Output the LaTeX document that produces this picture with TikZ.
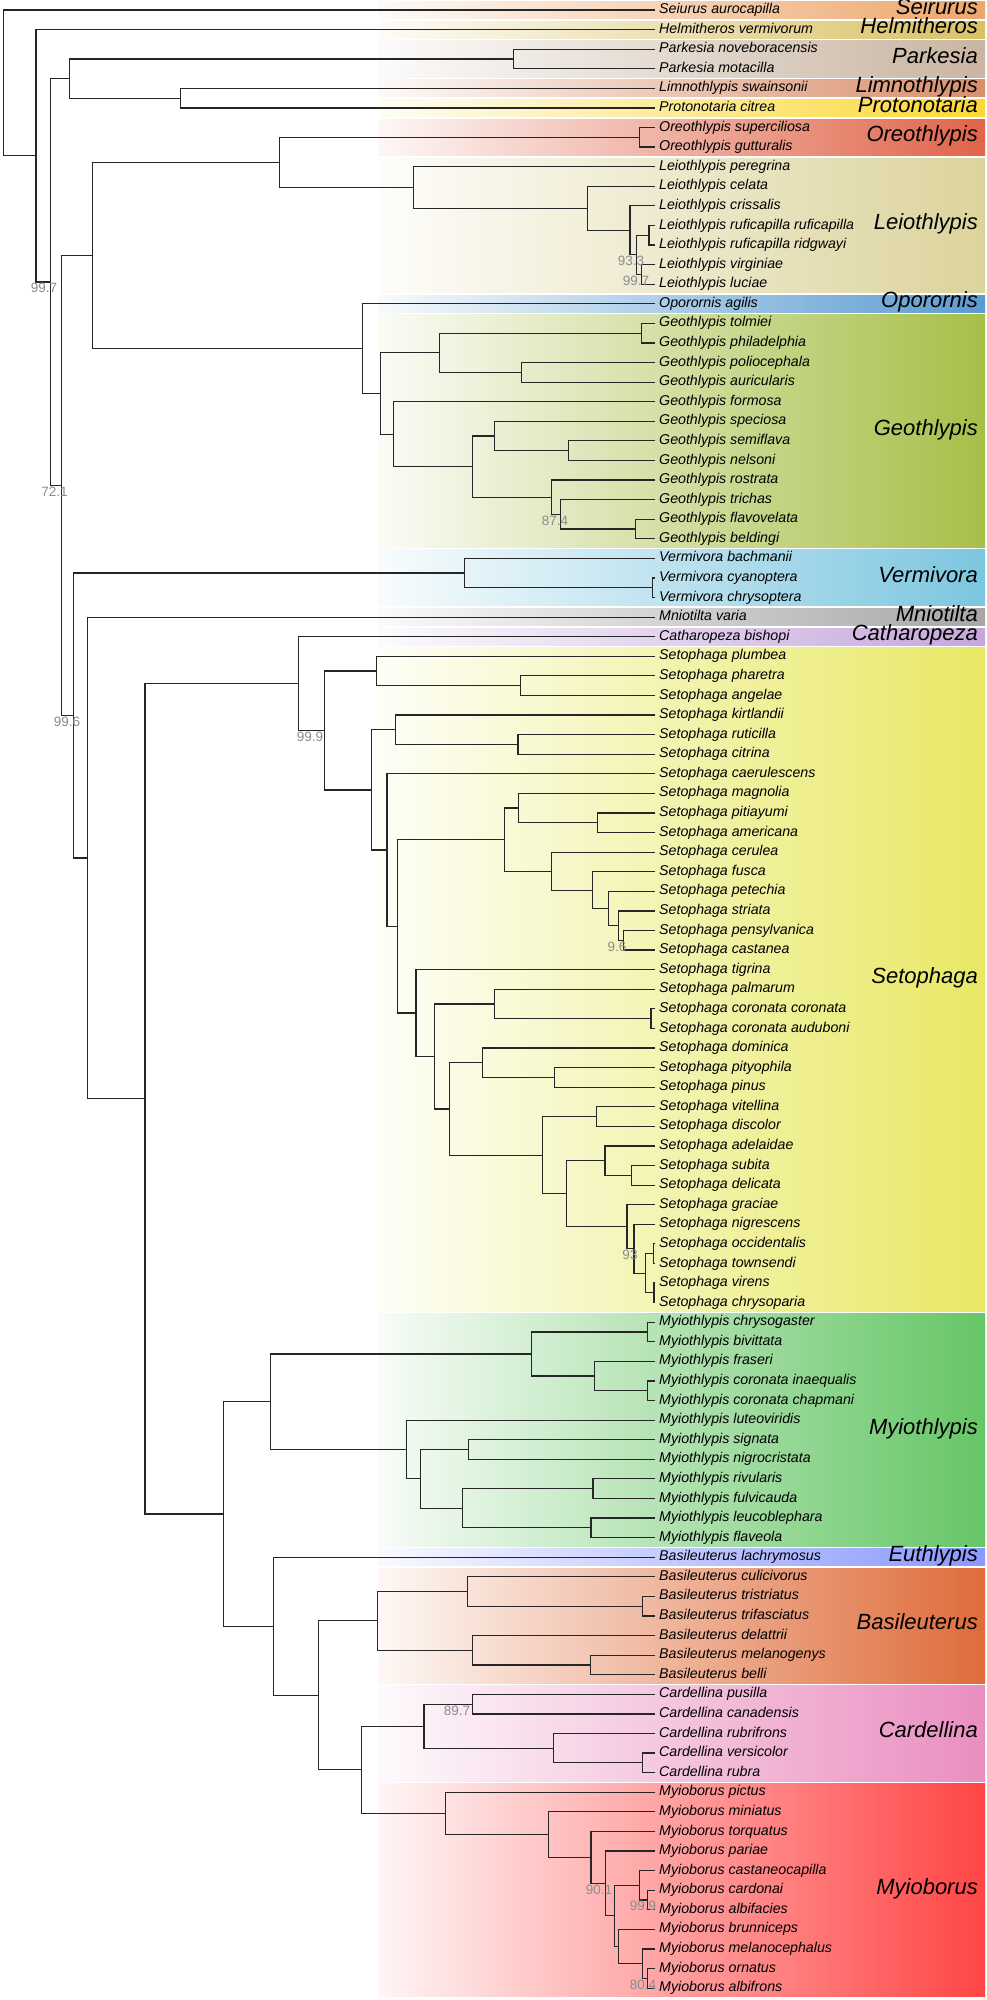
\documentclass[tikz,border=0pt]{standalone}
\usepackage{fontspec}
\setmainfont{Liberation Sans}
\usepackage{tikz}
\usetikzlibrary{positioning}
\definecolor{cSeiurus}{HTML}{EDA66B}
\definecolor{cHelmitheros}{HTML}{D9C165}
\definecolor{cParkesia}{HTML}{C9B5A1}
\definecolor{cLimnothlypis}{HTML}{D98F6B}
\definecolor{cProtonotaria}{HTML}{FBD836}
\definecolor{cOreothlypis}{HTML}{E06449}
\definecolor{cLeiothlypis}{HTML}{DCD39C}
\definecolor{cOporornis}{HTML}{5A9BD0}
\definecolor{cGeothlypis}{HTML}{A7BF48}
\definecolor{cVermivora}{HTML}{7CC6DF}
\definecolor{cMniotilta}{HTML}{A6A6A6}
\definecolor{cCatharopeza}{HTML}{C6A6DB}
\definecolor{cSetophaga}{HTML}{E8E864}
\definecolor{cMyiothlypis}{HTML}{66C666}
\definecolor{cEuthlypis}{HTML}{8A98FF}
\definecolor{cBasileuterus}{HTML}{DF6C3A}
\definecolor{cCardellina}{HTML}{EA8EC0}
\definecolor{cMyioborus}{HTML}{FF4545}
\tikzstyle{branch} = [line width=1.2pt, draw=black!85]
\tikzstyle{tiplab} = [inner sep=0pt, text height=0.716em, text depth=0pt, font=\itshape\fontsize{14.2}{16}\selectfont]
\tikzstyle{cladelab} = [anchor=east, inner sep=0pt, text height=0.716em, text depth=0pt, font=\itshape\fontsize{22}{26}\selectfont]
\tikzstyle{boot} = [inner sep=0pt, text height=0.716em, text depth=0pt, text=black!45, font=\fontsize{13.5}{15}\selectfont]

\begin{document}
\begin{tikzpicture}[x=1pt, y=-19.585pt, node distance=4pt]

    \fill[white] (0,0.4894) rectangle (986,102.6084);
    \useasboundingbox (0,0.4894) rectangle (986,102.6084);

    \foreach \first/\last/\col/\clade [count=\k] in {1/1/cSeiurus/Seirurus, 2/2/cHelmitheros/Helmitheros, 3/4/cParkesia/Parkesia, 5/5/cLimnothlypis/Limnothlypis, 6/6/cProtonotaria/Protonotaria, 7/8/cOreothlypis/Oreothlypis, 9/15/cLeiothlypis/Leiothlypis, 16/16/cOporornis/Oporornis, 17/28/cGeothlypis/Geothlypis, 29/31/cVermivora/Vermivora, 32/32/cMniotilta/Mniotilta, 33/33/cCatharopeza/Catharopeza, 34/67/cSetophaga/Setophaga, 68/79/cMyiothlypis/Myiothlypis, 80/80/cEuthlypis/Euthlypis, 81/86/cBasileuterus/Basileuterus, 87/91/cCardellina/Cardellina, 92/102/cMyioborus/Myioborus}{
        \shade[left color=\col!5!white, right color=\col] (378,{\first-0.43}) rectangle (985,{\last+0.43});
        \node[cladelab] (clade\k) at (978,{(\first+\last)/2+0.03}) {\clade};
    }

    \foreach \name [count=\i] in {Seiurus aurocapilla, Helmitheros vermivorum, Parkesia noveboracensis, Parkesia motacilla, Limnothlypis swainsonii, Protonotaria citrea, Oreothlypis superciliosa, Oreothlypis gutturalis, Leiothlypis peregrina, Leiothlypis celata, Leiothlypis crissalis, Leiothlypis ruficapilla ruficapilla, Leiothlypis ruficapilla ridgwayi, Leiothlypis virginiae, Leiothlypis luciae, Oporornis agilis, Geothlypis tolmiei, Geothlypis philadelphia, Geothlypis poliocephala, Geothlypis auricularis, Geothlypis formosa, Geothlypis speciosa, Geothlypis semiflava, Geothlypis nelsoni, Geothlypis rostrata, Geothlypis trichas, Geothlypis flavovelata, Geothlypis beldingi, Vermivora bachmanii, Vermivora cyanoptera, Vermivora chrysoptera, Mniotilta varia, Catharopeza bishopi, Setophaga plumbea, Setophaga pharetra, Setophaga angelae, Setophaga kirtlandii, Setophaga ruticilla, Setophaga citrina, Setophaga caerulescens, Setophaga magnolia, Setophaga pitiayumi, Setophaga americana, Setophaga cerulea, Setophaga fusca, Setophaga petechia, Setophaga striata, Setophaga pensylvanica, Setophaga castanea, Setophaga tigrina, Setophaga palmarum, Setophaga coronata coronata, Setophaga coronata auduboni, Setophaga dominica, Setophaga pityophila, Setophaga pinus, Setophaga vitellina, Setophaga discolor, Setophaga adelaidae, Setophaga subita, Setophaga delicata, Setophaga graciae, Setophaga nigrescens, Setophaga occidentalis, Setophaga townsendi, Setophaga virens, Setophaga chrysoparia, Myiothlypis chrysogaster, Myiothlypis bivittata, Myiothlypis fraseri, Myiothlypis coronata inaequalis, Myiothlypis coronata chapmani, Myiothlypis luteoviridis, Myiothlypis signata, Myiothlypis nigrocristata, Myiothlypis rivularis, Myiothlypis fulvicauda, Myiothlypis leucoblephara, Myiothlypis flaveola, Basileuterus lachrymosus, Basileuterus culicivorus, Basileuterus tristriatus, Basileuterus trifasciatus, Basileuterus delattrii, Basileuterus melanogenys, Basileuterus belli, Cardellina pusilla, Cardellina canadensis, Cardellina rubrifrons, Cardellina versicolor, Cardellina rubra, Myioborus pictus, Myioborus miniatus, Myioborus torquatus, Myioborus pariae, Myioborus castaneocapilla, Myioborus cardonai, Myioborus albifacies, Myioborus brunniceps, Myioborus melanocephalus, Myioborus ornatus, Myioborus albifrons}{
        \coordinate (t\i) at (655,\i);
        \node[tiplab, right=of t\i] (lab\i) {\name};
    }

    \coordinate (root) at (3.2,4.7224);
    \coordinate (afterSeiurus) at (36,8.4448);
    \coordinate (coreClade) at (50.7,14.8896);
    \coordinate (parkLimno) at (69.3,4.5);
    \coordinate (parkesia) at (513.5,3.5);
    \coordinate (limnoProto) at (180.2,5.5);
    \coordinate (mainClade) at (61.7,25.2793);
    \coordinate (oreoGeo) at (92.2,13.5352);
    \coordinate (oreoLeio) at (279.1,8.7813);
    \coordinate (oreothlypis) at (639.5,7.5);
    \coordinate (leiothlypis) at (413.3,10.0625);
    \coordinate (leioA) at (587.2,11.125);
    \coordinate (leioB) at (630,12.25);
    \coordinate (leioC) at (636.4,13.5);
    \coordinate (leioRufi) at (649,12.5);
    \coordinate (leioVirg) at (641.5,14.5);
    \coordinate (oporGeo) at (362.3,18.2891);
    \coordinate (geothlypis) at (380.6,20.5781);
    \coordinate (geoA) at (439.8,18.5);
    \coordinate (geoTolm) at (641.4,17.5);
    \coordinate (geoPolio) at (521.7,19.5);
    \coordinate (geoB) at (393.2,22.6563);
    \coordinate (geoC) at (472.6,24.3125);
    \coordinate (geoD) at (494.6,22.75);
    \coordinate (geoSemi) at (568.3,23.5);
    \coordinate (geoE) at (551.3,25.875);
    \coordinate (geoF) at (560.8,26.75);
    \coordinate (geoFlavo) at (635.1,27.5);
    \coordinate (vermRest) at (73.3,37.0234);
    \coordinate (vermivora) at (464.4,29.75);
    \coordinate (vermPair) at (652.1,30.5);
    \coordinate (mnioRest) at (87.3,44.2968);
    \coordinate (setoBasi) at (145,56.5936);
    \coordinate (cathSeto) at (298.8,35.3929);
    \coordinate (setophaga) at (324.5,37.7859);
    \coordinate (setoA) at (376.2,34.75);
    \coordinate (setoPhar) at (520.4,35.5);
    \coordinate (setoB) at (371.7,40.8218);
    \coordinate (setoC) at (395.7,37.75);
    \coordinate (setoRuti) at (517.9,38.5);
    \coordinate (setoD) at (386.9,43.8936);
    \coordinate (setoE) at (397.6,47.7871);
    \coordinate (setoF) at (504.7,43.3594);
    \coordinate (setoMagn) at (518.6,41.75);
    \coordinate (setoPiti) at (597.3,42.5);
    \coordinate (setoCeru) at (551.3,44.9688);
    \coordinate (setoFusc) at (592.3,45.9375);
    \coordinate (setoPete) at (608.7,46.875);
    \coordinate (setoStri) at (618.1,47.75);
    \coordinate (setoPens) at (623.8,48.5);
    \coordinate (setoG) at (415.9,52.2148);
    \coordinate (setoH) at (434.8,54.4297);
    \coordinate (setoPalm) at (494.6,51.75);
    \coordinate (setoCoro) at (650.9,52.5);
    \coordinate (setoI) at (449.2,57.1094);
    \coordinate (setoDomi) at (482.6,54.75);
    \coordinate (setoPity) at (554.5,55.5);
    \coordinate (setoJ) at (542.5,59.4688);
    \coordinate (setoVite) at (596.1,57.5);
    \coordinate (setoK) at (566.4,61.4375);
    \coordinate (setoAdel) at (604.9,59.75);
    \coordinate (setoSubi) at (631.3,60.5);
    \coordinate (setoGrac) at (626.9,63.125);
    \coordinate (setoNigr) at (633.9,64.25);
    \coordinate (setoL) at (645.8,65.5);
    \coordinate (setoOcci) at (653.4,64.5);
    \coordinate (setoVire) at (654,66.5);
    \coordinate (myioBasi) at (223.5,77.7942);
    \coordinate (myiothlypis) at (270.3,72.0625);
    \coordinate (myioA) at (531.8,69.625);
    \coordinate (myioChry) at (647.1,68.5);
    \coordinate (myioFras) at (594.8,70.75);
    \coordinate (myioCoro) at (647.1,71.5);
    \coordinate (myioB) at (406.4,74.5);
    \coordinate (myioC) at (420.3,76);
    \coordinate (myioSign) at (468.8,74.5);
    \coordinate (myioD) at (462.5,77.5);
    \coordinate (myioRivu) at (592.9,76.5);
    \coordinate (myioLeuc) at (591,78.5);
    \coordinate (basiRest) at (273.5,83.5259);
    \coordinate (basiCard) at (318.2,87.0518);
    \coordinate (basileuterus) at (377.4,83.25);
    \coordinate (basiCuli) at (467.5,81.75);
    \coordinate (basiTris) at (642.7,82.5);
    \coordinate (basiDela) at (472.6,84.75);
    \coordinate (basiMela) at (590.4,85.5);
    \coordinate (cardMyio) at (361.7,90.8535);
    \coordinate (cardellina) at (424,88.625);
    \coordinate (cardPusi) at (472.6,87.5);
    \coordinate (cardRubr) at (553.2,89.75);
    \coordinate (cardVers) at (642.7,90.5);
    \coordinate (myioborus) at (445.5,93.082);
    \coordinate (mybMini) at (548.8,94.1641);
    \coordinate (mybTorq) at (591,95.3281);
    \coordinate (mybPari) at (605.5,96.6563);
    \coordinate (mybCore) at (614.3,98.3125);
    \coordinate (mybCast) at (639.5,96.75);
    \coordinate (mybCard) at (647.7,97.5);
    \coordinate (mybBrun) at (618.7,99.875);
    \coordinate (mybMela) at (642.7,100.75);
    \coordinate (mybOrna) at (647.7,101.5);

    \foreach \p/\a/\b in {root/t1/afterSeiurus, afterSeiurus/t2/coreClade, coreClade/parkLimno/mainClade, parkLimno/parkesia/limnoProto, parkesia/t3/t4, limnoProto/t5/t6, mainClade/oreoGeo/vermRest, oreoGeo/oreoLeio/oporGeo, oreoLeio/oreothlypis/leiothlypis, oreothlypis/t7/t8, leiothlypis/t9/leioA, leioA/t10/leioB, leioB/t11/leioC, leioC/leioRufi/leioVirg, leioRufi/t12/t13, leioVirg/t14/t15, oporGeo/t16/geothlypis, geothlypis/geoA/geoB, geoA/geoTolm/geoPolio, geoTolm/t17/t18, geoPolio/t19/t20, geoB/t21/geoC, geoC/geoD/geoE, geoD/t22/geoSemi, geoSemi/t23/t24, geoE/t25/geoF, geoF/t26/geoFlavo, geoFlavo/t27/t28, vermRest/vermivora/mnioRest, vermivora/t29/vermPair, vermPair/t30/t31, mnioRest/t32/setoBasi, setoBasi/cathSeto/myioBasi, cathSeto/t33/setophaga, setophaga/setoA/setoB, setoA/t34/setoPhar, setoPhar/t35/t36, setoB/setoC/setoD, setoC/t37/setoRuti, setoRuti/t38/t39, setoD/t40/setoE, setoE/setoF/setoG, setoF/setoMagn/setoCeru, setoMagn/t41/setoPiti, setoPiti/t42/t43, setoCeru/t44/setoFusc, setoFusc/t45/setoPete, setoPete/t46/setoStri, setoStri/t47/setoPens, setoPens/t48/t49, setoG/t50/setoH, setoH/setoPalm/setoI, setoPalm/t51/setoCoro, setoCoro/t52/t53, setoI/setoDomi/setoJ, setoDomi/t54/setoPity, setoPity/t55/t56, setoJ/setoVite/setoK, setoVite/t57/t58, setoK/setoAdel/setoGrac, setoAdel/t59/setoSubi, setoSubi/t60/t61, setoGrac/t62/setoNigr, setoNigr/t63/setoL, setoL/setoOcci/setoVire, setoOcci/t64/t65, setoVire/t66/t67, myioBasi/myiothlypis/basiRest, myiothlypis/myioA/myioB, myioA/myioChry/myioFras, myioChry/t68/t69, myioFras/t70/myioCoro, myioCoro/t71/t72, myioB/t73/myioC, myioC/myioSign/myioD, myioSign/t74/t75, myioD/myioRivu/myioLeuc, myioRivu/t76/t77, myioLeuc/t78/t79, basiRest/t80/basiCard, basiCard/basileuterus/cardMyio, basileuterus/basiCuli/basiDela, basiCuli/t81/basiTris, basiTris/t82/t83, basiDela/t84/basiMela, basiMela/t85/t86, cardMyio/cardellina/myioborus, cardellina/cardPusi/cardRubr, cardPusi/t87/t88, cardRubr/t89/cardVers, cardVers/t90/t91, myioborus/t92/mybMini, mybMini/t93/mybTorq, mybTorq/t94/mybPari, mybPari/t95/mybCore, mybCore/mybCast/mybBrun, mybCast/t96/mybCard, mybCard/t97/t98, mybBrun/t99/mybMela, mybMela/t100/mybOrna, mybOrna/t101/t102}
        \draw[branch] (\a) -| (\p) |- (\b);

    \foreach \nd/\val/\dx in {coreClade/99.7/-6.7, mainClade/72.1/-7.2, vermRest/99.6/-6.3, setophaga/99.9/-14.5, leioC/93.3/-5.4, leioVirg/99.7/-5.5, geoF/87.4/-5.8, setoPens/9.6/-6.8, setoNigr/93/-3.9, cardPusi/89.7/-15.6, mybPari/90.1/-6.5, mybCard/99.9/-4.7, mybOrna/80.4/-4.7}
        \node[boot] (bs\nd) at ([xshift=\dx pt, yshift=-7.3pt]\nd) {\val};

\end{tikzpicture}
\end{document}
